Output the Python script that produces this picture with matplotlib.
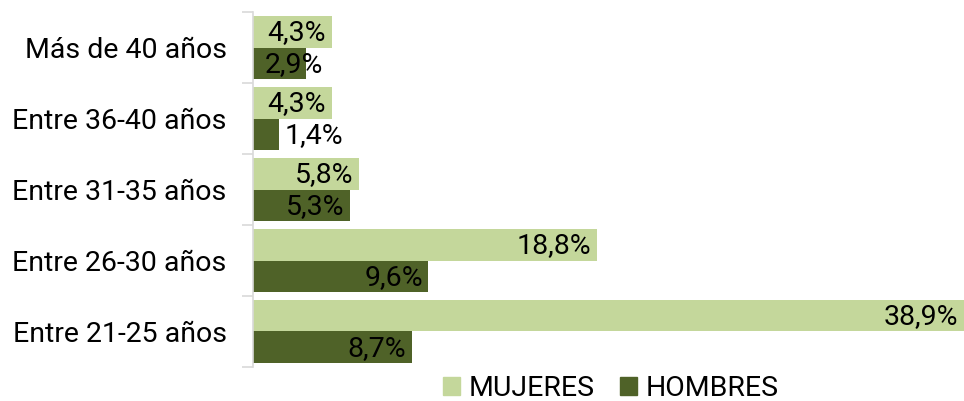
import numpy as np
import matplotlib
matplotlib.use("Agg")
from matplotlib import pyplot as plt
from matplotlib.patches import Patch

categorias = ['Entre 21-25 años', 'Entre 26-30 años', 'Entre 31-35 años',
              'Entre 36-40 años', 'Más de 40 años']
mujeres = [38.9, 18.8, 5.8, 4.3, 4.3]
hombres = [8.7, 9.6, 5.3, 1.4, 2.9]

c_muj = '#C4D79B'
c_hom = '#4F6228'

plt.rcParams['font.family'] = ['Roboto', 'DejaVu Sans']
fs = 20.5

fig = plt.figure(figsize=(9.64, 4.01), dpi=100)
ax = fig.add_axes([0.2624, 0.0848, 0.7376, 0.8852])

y = np.arange(len(categorias))
h = 0.45
ax.barh(y + h / 2, mujeres, height=h, color=c_muj, label='MUJERES')
ax.barh(y - h / 2, hombres, height=h, color=c_hom, label='HOMBRES')

def etiquetar(vals, pos):
    for v, yy in zip(vals, pos):
        txt = ('%.1f%%' % v).replace('.', ',')
        if v >= 2.5:
            ax.annotate(txt, (max(v, 4.15), yy), xytext=(-4, -1),
                        textcoords='offset points', ha='right', va='center',
                        fontsize=fs, color='black')
        else:
            ax.annotate(txt, (v, yy), xytext=(4, -1),
                        textcoords='offset points', ha='left', va='center',
                        fontsize=fs, color='black')

etiquetar(mujeres, y + h / 2)
etiquetar(hombres, y - h / 2)

ax.set_xlim(0, 38.9)
ax.set_ylim(-0.5, 4.5)
ax.set_xticks([])
ax.set_yticks(np.arange(-0.5, 5, 1))
ax.set_yticklabels([])
ax.set_yticks(y, minor=True)
ax.set_yticklabels(categorias, minor=True, fontsize=fs)
ax.tick_params(axis='y', which='major', length=8, color='#D9D9D9', width=1.2)
ax.tick_params(axis='y', which='minor', length=0, pad=19)
for s in ['top', 'right', 'bottom']:
    ax.spines[s].set_visible(False)
ax.spines['left'].set_color('#D9D9D9')
ax.spines['left'].set_linewidth(1.2)

handles = [Patch(color=c_muj), Patch(color=c_hom)]
ax.legend(handles, ['MUJERES', 'HOMBRES'], loc='center', bbox_to_anchor=(0.503, -0.06),
          ncol=2, frameon=False, fontsize=fs, handlelength=0.6, handleheight=0.6,
          handletextpad=0.3, columnspacing=0.9, borderpad=0)

fig.savefig('out.png', dpi=100)
